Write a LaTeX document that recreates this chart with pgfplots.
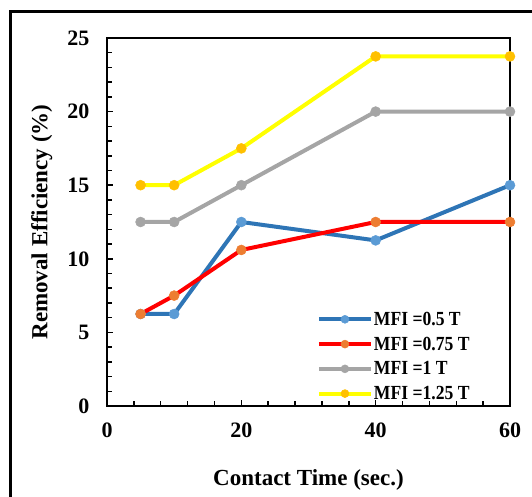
\documentclass[border=0pt]{standalone}
\usepackage{fontspec}
\setmainfont{Liberation Serif}
\newfontfamily\legfont[FakeStretch=0.88]{Liberation Serif}
\usepackage{pgfplots}
\pgfplotsset{compat=1.18}
\definecolor{cBlue}{RGB}{46,117,182}
\definecolor{cBlueM}{RGB}{91,155,213}
\definecolor{cRed}{RGB}{255,0,0}
\definecolor{cOrange}{RGB}{237,125,49}
\definecolor{cGray}{RGB}{165,165,165}
\definecolor{cYellow}{RGB}{255,255,0}
\definecolor{cGold}{RGB}{255,192,0}
\begin{document}
\begin{tikzpicture}[x=1pt,y=1pt]
\path[use as bounding box] (0,0) rectangle (532,497);
\draw[line width=3pt] (10,-20) -- (10,485) -- (560,485);
\begin{axis}[
  at={(107pt,91pt)}, anchor=south west,
  scale only axis, width=403pt, height=368pt,
  xmin=0, xmax=60, ymin=0, ymax=25,
  xtick={0,20,40,60}, ytick={0,5,10,15,20,25},
  minor x tick num=4, minor y tick num=4,
  tick align=inside, xtick pos=left, ytick pos=left,
  major tick length=6pt, minor tick length=5pt,
  every tick/.style={black, line width=1.5pt},
  axis line style={line width=2.5pt},
  /pgf/number format/assume math mode=true,
  tick label style={font=\bfseries\fontsize{22}{22}\selectfont},
  yticklabel style={xshift=-14pt},
  xticklabel style={yshift=-13pt},
  xlabel={Contact Time (sec.)},
  ylabel={Removal Efficiency (\%)},
  label style={font=\bfseries\fontsize{23}{23}\selectfont},
  xlabel style={at={(axis description cs:0.5,-0.2)}, anchor=center},
  ylabel style={at={(axis description cs:-0.162,0.5)}, anchor=center},
  legend style={draw=none, fill=none, at={(axis description cs:0.91,0.005)}, anchor=south east,
    font=\legfont\bfseries\fontsize{20}{20}\selectfont, row sep=8pt, nodes={inner sep=1pt}},
  legend cell align=left,
  legend image code/.code={\draw[mark repeat=2,mark phase=2,#1,mark size=4pt] plot coordinates {(0pt,0pt)(26pt,0pt)(52pt,0pt)};},
  every axis plot/.append style={line width=4pt, mark=*, mark size=5pt},
]
\addplot[cBlue, mark options={fill=cBlueM, draw=cBlueM, line width=0.5pt}] coordinates {(5,6.25)(10,6.25)(20,12.5)(40,11.25)(60,15)};
\addlegendentry{MFI =0.5 T}
\addplot[cRed, mark options={fill=cOrange, draw=cOrange, line width=0.5pt}] coordinates {(5,6.25)(10,7.5)(20,10.6)(40,12.5)(60,12.5)};
\addlegendentry{MFI =0.75 T}
\addplot[cGray, mark options={fill=cGray, draw=cGray, line width=0.5pt}] coordinates {(5,12.5)(10,12.5)(20,15)(40,20)(60,20)};
\addlegendentry{MFI =1 T}
\addplot[cYellow, mark options={fill=cGold, draw=cGold, line width=0.5pt}] coordinates {(5,15)(10,15)(20,17.5)(40,23.75)(60,23.75)};
\addlegendentry{MFI =1.25 T}
\end{axis}
\end{tikzpicture}
\end{document}
